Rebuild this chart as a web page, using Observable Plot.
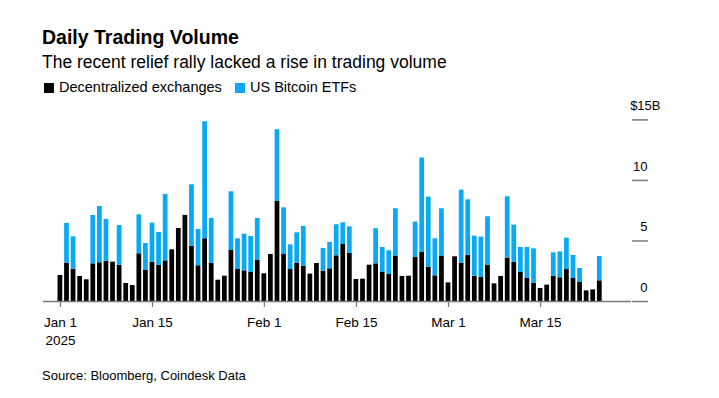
<!DOCTYPE html>
<html><head><meta charset="utf-8">
<script src="https://cdn.jsdelivr.net/npm/d3@7"></script>
<script src="https://cdn.jsdelivr.net/npm/@observablehq/plot@0.6"></script>
<style>
body{margin:0;background:#fff;font-family:"Liberation Sans",Arial,sans-serif;color:#000;}
#wrap{position:relative;width:719px;height:398px;overflow:hidden;background:#fff;}
.t{position:absolute;white-space:nowrap;line-height:1;}
#title{left:42px;top:28px;font-size:19.5px;font-weight:bold;}
#subtitle{left:42px;top:53.5px;font-size:17.5px;}
.lt{top:80.4px;font-size:14.5px;}
.sw{position:absolute;top:83px;width:10px;height:10px;}
#source{left:42px;top:369px;font-size:13px;}
#chart{position:absolute;left:0;top:95px;}
</style></head>
<body>
<div id="wrap">
  <div class="t" id="title">Daily Trading Volume</div>
  <div class="t" id="subtitle">The recent relief rally lacked a rise in trading volume</div>
  <div class="sw" style="left:44px;background:#000"></div>
  <div class="t lt" style="left:59px">Decentralized exchanges</div>
  <div class="sw" style="left:235px;background:#0aa9f7"></div>
  <div class="t lt" style="left:250px">US Bitcoin ETFs</div>
  <div id="chart"></div>
  <div class="t" id="source">Source: Bloomberg, Coindesk Data</div>
</div>
<script>
const startDate = "2025-01-01";
// Decentralized exchanges daily volume ($B), Jan 1 – Mar 24 2025
const dexVolume = [
  2.15, 3.17, 2.67, 2.07, 1.79, 3.11, 3.20, 3.33, 3.25, 3.00, 1.49, 1.32, 3.94, 2.56, 3.25, 2.98,
  3.36, 4.27, 6.03, 7.11, 4.55, 2.95, 5.18, 3.14, 1.76, 2.09, 4.21, 2.64, 2.53, 2.40, 3.39,
  2.29, 3.88, 8.26, 3.88, 2.64, 3.17, 2.92, 2.26, 3.14, 2.51, 2.70, 3.77, 4.71, 3.97, 1.82,
  1.85, 3.00, 3.11, 2.40, 2.23, 3.72, 2.07, 2.09, 3.64, 4.05, 2.81, 2.12, 3.72,
  1.54, 3.69, 3.17, 3.80, 2.09, 1.98, 3.00, 1.46, 2.07, 3.58, 3.22, 2.40, 1.90, 1.52, 1.07,
  1.35, 2.09, 1.96, 2.64, 1.90, 1.57, 0.88, 0.96, 1.71
];
// US Bitcoin ETFs daily volume ($B); null = no trading
const etfVolume = [
  null, 3.28, 2.67, null, null, 4.00, 4.65, 3.45, null, 3.28, null, null, 3.22, 2.23, 3.22, 2.72,
  5.48, null, null, null, 5.09, 3.00, 9.67, 3.72, null, null, 4.85, 2.54, 3.03, 2.97, 3.47,
  null, null, 5.93, 3.86, 2.04, 2.50, 3.28, null, null, 1.87, 2.18, 2.57, 1.79, 2.20, null,
  null, null, 2.90, 2.06, 1.96, 3.94, null, null, 2.92, 7.80, 5.81, 3.06, 3.94,
  null, null, 6.03, 4.60, 3.31, 3.34, 4.00, null, null, 5.07, 3.09, 2.06, 2.56, 2.83, null,
  null, 1.93, 2.14, 2.59, 1.90, 1.16, null, null, 2.01
];
const seriesNames = ["Decentralized exchanges", "US Bitcoin ETFs"];
const seriesColors = ["#000000", "#0aa9f7"];
const xTickDates = ["2025-01-01", "2025-01-15", "2025-02-01", "2025-02-15", "2025-03-01", "2025-03-15"];
const yTickValues = [0, 5, 10, 15];

const start = new Date(startDate);
const dates = d3.utcDay.range(start, d3.utcDay.offset(start, dexVolume.length));
const rows = dates.map((date, i) => ({date, dex: dexVolume[i], etf: etfVolume[i]}));
const DAY = 864e5;
const half = 0.36 * DAY;
const x1 = d => new Date(+d.date - half);
const x2 = d => new Date(+d.date + half);
const fmt = d3.utcFormat("%b %-d");

const chart = Plot.plot({
  width: 719,
  height: 255,
  marginTop: 24.4,
  marginBottom: 49,
  marginLeft: 43,
  marginRight: 88,
  style: {fontFamily: '"Liberation Sans", Arial, sans-serif', fontSize: "13px", color: "#000", background: "transparent"},
  x: {type: "utc", domain: [new Date(+start - 2.57 * DAY), new Date(+start + 86.82 * DAY)]},
  y: {domain: [0, 15]},
  marks: [
    Plot.rectY(rows, {x1, x2, y1: 0, y2: "dex", fill: seriesColors[0], title: d => seriesNames[0]}),
    Plot.rectY(rows.filter(d => d.etf != null), {x1, x2, y1: "dex", y2: d => d.dex + d.etf, fill: seriesColors[1], title: d => seriesNames[1]}),
    Plot.ruleY([0], {stroke: "#7a7a7a", strokeWidth: 1.5}),
    Plot.axisX({
      ticks: xTickDates.map(s => new Date(s)),
      tickFormat: d => +d === +start ? fmt(d) + "\n2025" : fmt(d),
      tickSize: 6, tickPadding: 7, stroke: "#7a7a7a", strokeWidth: 1.2,
      fontSize: 13.5, lineHeight: 1.3, label: null
    }),
    Plot.axisY({anchor: "right", ticks: yTickValues, tickSize: 16, tickFormat: () => "", stroke: "#7a7a7a", strokeWidth: 1.5, label: null}),
    Plot.axisY({anchor: "right", ticks: yTickValues.slice(0, 3), tickSize: 0, tickPadding: 0, textAnchor: "end", dx: 16, dy: -14, fontSize: 13, label: null}),
    Plot.text([yTickValues[3]], {y: d => d, frameAnchor: "right", text: d => "$" + d + "B", textAnchor: "end", dx: 29, dy: -14, fontSize: 13})
  ]
});
document.getElementById("chart").appendChild(chart);
</script>
</body></html>
